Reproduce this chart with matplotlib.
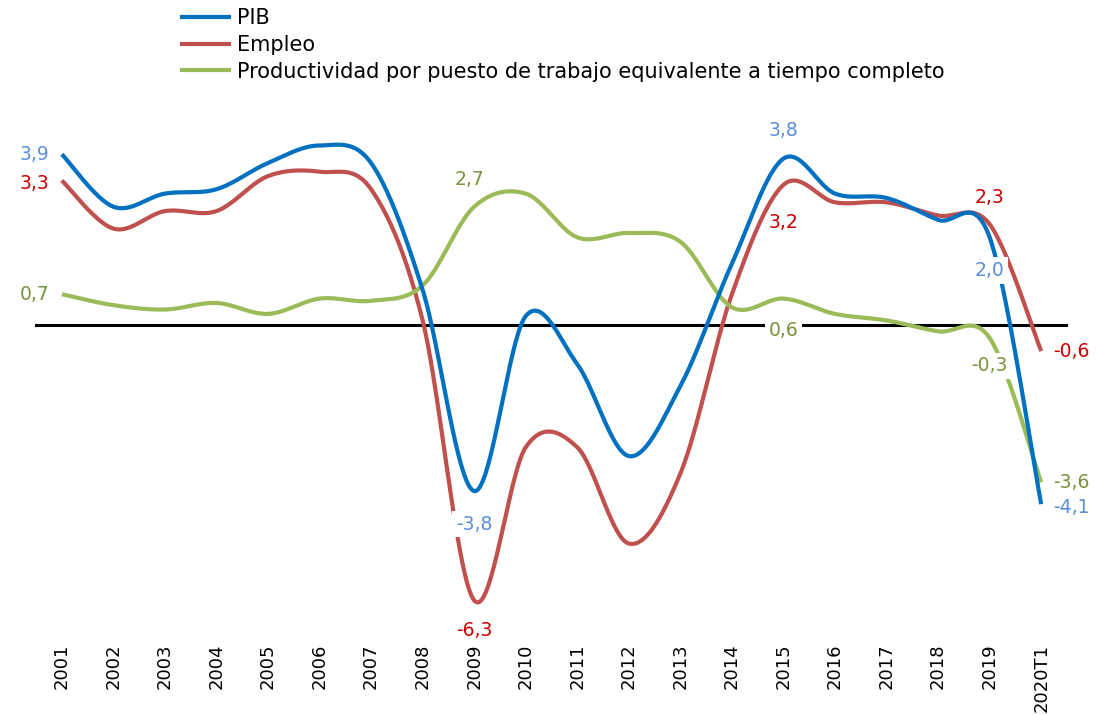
import numpy as np
import matplotlib
matplotlib.use('Agg')
import matplotlib.pyplot as plt

plt.rcParams['font.family'] = ['DejaVu Sans']

# datos (tasas de variacion, %)
years = ['2001', '2002', '2003', '2004', '2005', '2006', '2007', '2008', '2009', '2010',
         '2011', '2012', '2013', '2014', '2015', '2016', '2017', '2018', '2019', '2020T1']
pib = [3.9, 2.7, 3.0, 3.1, 3.7, 4.1, 3.7, 0.8, -3.8, 0.2,
       -0.9, -3.0, -1.4, 1.4, 3.8, 3.0, 2.9, 2.4, 2.0, -4.1]
empleo = [3.3, 2.2, 2.6, 2.6, 3.4, 3.5, 3.1, 0.1, -6.3, -2.8,
          -2.8, -5.0, -3.4, 0.7, 3.2, 2.8, 2.8, 2.5, 2.3, -0.6]
productividad = [0.7, 0.45, 0.35, 0.5, 0.25, 0.6, 0.55, 0.9, 2.7, 3.0,
                 2.0, 2.1, 1.9, 0.4, 0.6, 0.25, 0.1, -0.15, -0.3, -3.6]

c_pib = '#0070C0'
c_emp = '#C0504D'
c_prod = '#9BBB59'
t_pib = '#5B8FD9'
t_emp = '#CC0000'
t_prod = '#77933C'


# suavizado tipo Excel (curva de Bezier por los puntos)
def smooth(y, n=40):
    y = np.asarray(y, dtype=float)
    x = np.arange(len(y), dtype=float)
    pts = np.column_stack([x, y])
    p = np.vstack([pts[0], pts, pts[-1]])
    out = []
    t = np.linspace(0, 1, n)[:, None]
    for i in range(1, len(p) - 2):
        p0, p1, p2, p3 = p[i - 1], p[i], p[i + 1], p[i + 2]
        c1 = p1 + (p2 - p0) / 6.0
        c2 = p2 - (p3 - p1) / 6.0
        seg = ((1 - t) ** 3) * p1 + 3 * ((1 - t) ** 2) * t * c1 + 3 * (1 - t) * t ** 2 * c2 + t ** 3 * p2
        out.append(seg if i == 1 else seg[1:])
    out = np.vstack(out)
    return out[:, 0], out[:, 1]


fig = plt.figure(figsize=(10.98, 7.15), dpi=100)
ax = fig.add_axes([35 / 1098, 1 - 631 / 715, (1068 - 35) / 1098, (631 - 128) / 715])

ax.axhline(0, color='black', lw=2.2, zorder=1)
xs, ys = smooth(pib)
ax.plot(xs, ys, color=c_pib, lw=3, label='PIB', zorder=3, solid_capstyle='butt')
xs, ys = smooth(empleo)
ax.plot(xs, ys, color=c_emp, lw=3, label='Empleo', zorder=2, solid_capstyle='butt')
xs, ys = smooth(productividad)
ax.plot(xs, ys, color=c_prod, lw=3, label='Productividad por puesto de trabajo equivalente a tiempo completo',
        zorder=2, solid_capstyle='butt')

ax.set_xlim(-0.52, 19.52)
ax.set_ylim(-7.0, 4.5)
ax.set_xticks(range(len(years)))
ax.set_xticklabels(years, rotation=90, fontsize=13)
ax.tick_params(axis='x', length=0, pad=9)
ax.set_yticks([])
for s in ax.spines.values():
    s.set_visible(False)


def lab(i, serie, txt, col, dx, dy, ha='center', va='center', box=False):
    kw = {}
    if box:
        kw['bbox'] = dict(boxstyle='square,pad=0.2', fc='white', ec='none')
    ax.annotate(txt, (i, serie[i]), xytext=(dx, dy), textcoords='offset pixels',
                ha=ha, va=va, color=col, fontsize=13.5, zorder=5, **kw)


# etiquetas de datos
lab(0, pib, '3,9', t_pib, -12, 0, ha='right')
lab(0, empleo, '3,3', t_emp, -12, -3, ha='right')
lab(0, productividad, '0,7', t_prod, -12, 0, ha='right')
lab(8, productividad, '2,7', t_prod, -5, 27)
lab(8, pib, '-3,8', t_pib, 0, -33, box=True)
lab(8, empleo, '-6,3', t_emp, 0, -30)
lab(14, pib, '3,8', t_pib, 0, 28)
lab(14, empleo, '3,2', t_emp, 0, -38)
lab(14, productividad, '0,6', t_prod, 0, -32, box=True)
lab(18, empleo, '2,3', t_emp, 0, 27)
lab(18, pib, '2,0', t_pib, 0, -33, box=True)
lab(18, productividad, '-0,3', t_prod, 0, -28, box=True)
lab(19, empleo, '-0,6', t_emp, 12, 0, ha='left')
lab(19, productividad, '-3,6', t_prod, 12, 0, ha='left')
lab(19, pib, '-4,1', t_pib, 12, -3, ha='left')

fig.legend(loc='upper left', bbox_to_anchor=(180 / 1098, 1 - 8 / 715), frameon=False,
           fontsize=15, handlelength=2.45, handletextpad=0.3, labelspacing=0.33,
           borderaxespad=0, borderpad=0)

fig.savefig('out.png', dpi=100)
